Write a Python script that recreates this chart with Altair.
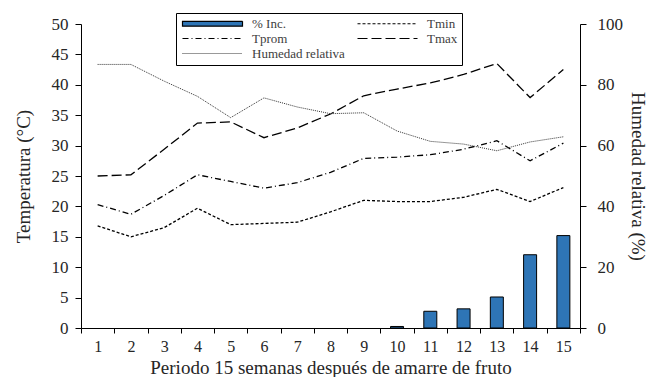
import altair as alt
import pandas as pd

semanas = list(range(1, 16))
tmin = [16.8, 15.0, 16.5, 19.7, 17.0, 17.2, 17.4, 19.1, 21.0, 20.8, 20.8, 21.5, 22.8, 20.8, 23.1]
tprom = [20.3, 18.7, 21.8, 25.2, 24.1, 23.0, 23.9, 25.6, 27.9, 28.1, 28.5, 29.4, 30.8, 27.5, 30.4]
tmax = [25.0, 25.2, 29.4, 33.7, 33.9, 31.3, 32.9, 35.2, 38.2, 39.3, 40.3, 41.7, 43.5, 37.9, 42.5]
humedad = [86.7, 86.7, 81.2, 76.2, 69.2, 75.7, 72.7, 70.5, 70.8, 64.8, 61.4, 60.5, 58.3, 61.2, 62.9]
incidencia = [0, 0, 0, 0, 0, 0, 0, 0, 0, 0.5, 5.5, 6.3, 10.2, 24.1, 30.4]

# legend order (filled column by column: left column, then right column)
series = ["% Inc.", "Tprom", "Humedad relativa", "Tmin", "Tmax"]
dash_by = {"% Inc.": [1, 0], "Tmin": [3, 2], "Tprom": [6, 3, 1, 3], "Tmax": [10, 4], "Humedad relativa": [1, 1]}

FONT = "Liberation Serif"
TXT = "#262626"
BAR_COLOR = "#2E75B6"
RECT_PATH = "M-1,-0.6H14V0.6H-1Z"
LINE_PATH = "M-1,0H14"

temps = pd.DataFrame(
    [{"semana": s, "serie": "Tmin", "valor": v} for s, v in zip(semanas, tmin)]
    + [{"semana": s, "serie": "Tprom", "valor": v} for s, v in zip(semanas, tprom)]
    + [{"semana": s, "serie": "Tmax", "valor": v} for s, v in zip(semanas, tmax)]
)
hum_df = pd.DataFrame({"semana": semanas, "serie": "Humedad relativa", "valor": humedad})
inc_df = pd.DataFrame({"semana": semanas, "inc": incidencia})

legend = alt.Legend(
    title=None,
    orient="none",
    legendX=95,
    legendY=-11,
    columns=2,
    columnPadding=10,
    rowPadding=1,
    padding=4,
    strokeColor="black",
    fillColor="white",
    symbolSize=64,
    symbolStrokeColor="black",
    symbolStrokeWidth=1.2,
    labelOffset=59,
    labelFont=FONT,
    labelFontSize=13,
    labelColor="#404040",
)

dash_enc = alt.StrokeDash(
    "serie:N",
    scale=alt.Scale(domain=series, range=[dash_by[s] for s in series]),
    legend=legend,
)

x_enc = alt.X(
    "semana:O",
    scale=alt.Scale(paddingInner=0, paddingOuter=0),
    axis=alt.Axis(
        title="Periodo 15 semanas después de amarre de fruto",
        labelAngle=0,
        tickBand="extent",
        tickSize=5,
        labelPadding=5,
        titlePadding=4,
        labelFontSize=16,
        titleFontSize=19,
    ),
)

y_left = alt.Y(
    "valor:Q",
    scale=alt.Scale(domain=[0, 50], nice=False),
    axis=alt.Axis(
        title="Temperatura (°C)",
        values=list(range(0, 51, 5)),
        orient="left",
        tickSize=6,
        labelPadding=7,
        titlePadding=18,
        labelFontSize=17,
        titleFontSize=19,
    ),
)

temp_layer = alt.Chart(temps).mark_line(color="black", strokeWidth=1.3).encode(
    x=x_enc,
    y=y_left,
    strokeDash=dash_enc,
)

# empty point layer that only supplies legend symbol shapes / fills / strokes
key_layer = (
    alt.Chart(temps)
    .transform_filter("false")
    .mark_point(filled=True, opacity=1, strokeWidth=1)
    .encode(
        x=x_enc,
        y=y_left,
        shape=alt.Shape(
            "serie:N",
            scale=alt.Scale(domain=series, range=[RECT_PATH if s == "% Inc." else LINE_PATH for s in series]),
            legend=legend,
        ),
        fill=alt.Fill(
            "serie:N",
            scale=alt.Scale(domain=series, range=[BAR_COLOR if s == "% Inc." else "transparent" for s in series]),
            legend=legend,
        ),
        stroke=alt.Stroke(
            "serie:N",
            scale=alt.Scale(domain=series, range=["black" if s != "Humedad relativa" else "#333333" for s in series]),
            legend=legend,
        ),
        strokeDash=dash_enc,
    )
)

bars = alt.Chart(inc_df).transform_filter("datum.inc > 0").mark_bar(
    size=13, color=BAR_COLOR, stroke="black", strokeWidth=1
).encode(
    x=x_enc,
    y=alt.Y(
        "inc:Q",
        scale=alt.Scale(domain=[0, 100], nice=False),
        axis=alt.Axis(
            title="Humedad relativa (%)",
            values=list(range(0, 101, 10)),
            orient="right",
            tickSize=6,
            labelPadding=11,
            titlePadding=5,
            labelFontSize=17,
            titleFontSize=19,
        ),
    ),
)

hum_layer = alt.Chart(hum_df).mark_line(color="#333333", strokeWidth=1).encode(
    x=x_enc,
    y=alt.Y("valor:Q", scale=alt.Scale(domain=[0, 100], nice=False)),
    strokeDash=dash_enc,
)

left = alt.layer(temp_layer, key_layer)
right = alt.layer(bars, hum_layer)

chart = (
    alt.layer(left, right)
    .resolve_scale(y="independent")
    .properties(width=499, height=304, padding={"left": 6, "top": 4, "right": 3, "bottom": 0})
    .configure_view(stroke=None)
    .configure_axis(
        grid=False,
        domainColor="black",
        tickColor="black",
        labelFont=FONT,
        titleFont=FONT,
        labelColor=TXT,
        titleColor=TXT,
        titleFontWeight="normal",
    )
)

chart.save("out.html", embed_options={"renderer": "svg", "actions": False})
